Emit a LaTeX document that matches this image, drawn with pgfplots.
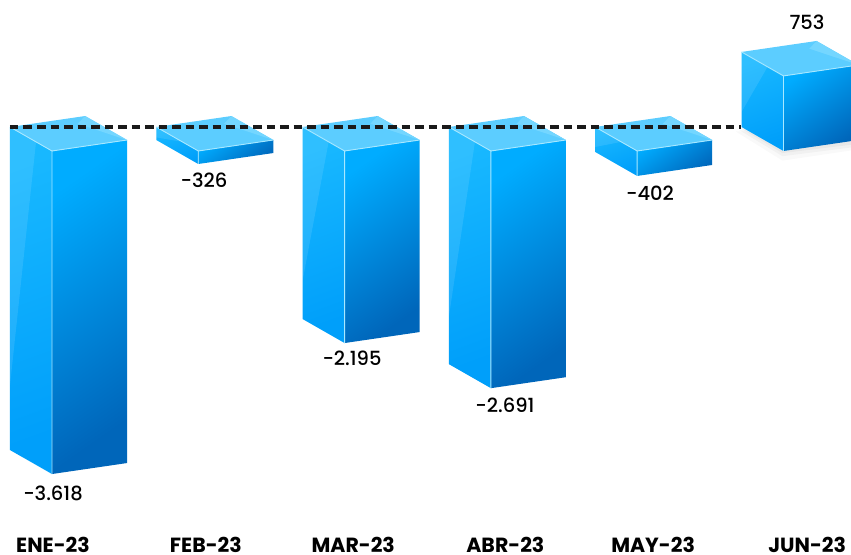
\documentclass[border=0pt]{standalone}
\usepackage{pgfplots}
\pgfplotsset{compat=1.18}
\usepackage{fontspec}
\setmainfont{Poppins}
\newfontfamily\medfont{Poppins Medium}
\definecolor{leftA}{HTML}{18B8FF}
\definecolor{leftB}{HTML}{009FFA}
\definecolor{rightA}{HTML}{00ACFF}
\definecolor{rightB}{HTML}{0066BA}
\definecolor{topA}{HTML}{5CCDFF}
\definecolor{topB}{HTML}{74D6FF}
\definecolor{edgeC}{HTML}{A8E8FF}
\definecolor{dashC}{HTML}{1A1A1A}
% Offsets of the box's faces, in axis units (1 category = 146.3 px; 1 y unit = 0.0885 px)
\def\ax{0.287}\def\ay{-271}\def\bx{0.513}\def\by{124}
% #1 category position, #2 y of top-left corner, #3 drawn height of the box.
% The reference's drawn heights are not quite proportional to its printed labels
% (small bars especially), so drawn heights are kept.
\newcommand\cube[3]{%
  \pgfmathsetmacro\xA{#1}\pgfmathsetmacro\yA{#2}%
  \pgfmathsetmacro\xB{#1+\ax}\pgfmathsetmacro\yB{#2+\ay}%
  \pgfmathsetmacro\xC{#1+\ax+\bx}\pgfmathsetmacro\yC{#2+\ay+\by}%
  \pgfmathsetmacro\xD{#1+\bx}\pgfmathsetmacro\yD{#2+\by}%
  \pgfmathsetmacro\yAb{#2-#3}\pgfmathsetmacro\yBb{#2+\ay-#3}\pgfmathsetmacro\yCb{#2+\ay+\by-#3}%
  \pgfmathsetmacro\xH{#1+0.62*\ax}\pgfmathsetmacro\yH{#2+0.62*\ay}\pgfmathsetmacro\yHb{#2-0.8*#3}%
  \pgfmathsetmacro\xT{#1+0.78*\bx+0.22*\ax}\pgfmathsetmacro\yT{#2+0.78*\by+0.22*\ay}%
  % left face
  \addplot[draw=none,top color=leftA,bottom color=leftB,shading angle=20] coordinates {(\xA,\yA)(\xB,\yB)(\xB,\yBb)(\xA,\yAb)} -- cycle;
  \addplot[draw=none,fill=white,fill opacity=0.10] coordinates {(\xA,\yA)(\xH,\yH)(\xA,\yHb)} -- cycle;
  % right face
  \addplot[draw=none,top color=rightA,bottom color=rightB,shading angle=35] coordinates {(\xB,\yB)(\xC,\yC)(\xC,\yCb)(\xB,\yBb)} -- cycle;
  % top face
  \addplot[draw=none,fill=topA] coordinates {(\xA,\yA)(\xD,\yD)(\xC,\yC)(\xB,\yB)} -- cycle;
  \addplot[draw=none,fill=topB] coordinates {(\xD,\yD)(\xC,\yC)(\xT,\yT)} -- cycle;
  % light front edges
  \addplot[edgeC,line width=0.9pt] coordinates {(\xB,\yBb)(\xB,\yB)(\xC,\yC)};
  \addplot[edgeC,line width=0.9pt] coordinates {(\xA,\yA)(\xB,\yB)};
}
\begin{document}
\begin{tikzpicture}
\useasboundingbox (0,-29pt) rectangle (851pt,525pt);
\begin{axis}[
  scale only axis,width=851pt,height=525pt,
  xmin=-0.06835,xmax=5.7485,ymin=-4497,ymax=1435,
  axis line style={draw=none},
  major tick length=0pt,
  ytick=\empty,
  xtick={0.294,1.339,2.346,3.386,4.396,5.449},
  xticklabels={ENE-23,FEB-23,MAR-23,ABR-23,MAY-23,JUN-23},
  xticklabel style={font=\fontsize{20.5}{21}\selectfont\bfseries,color=black,yshift=-8.5pt},
  no markers,
  clip=true,
]
% soft shadow under the last box
\addplot[draw=none,fill=black,fill opacity=0.025] coordinates {(4.96,-50)(5.28,-380)(5.85,-240)(5.85,-60)} -- cycle;
\addplot[draw=none,fill=black,fill opacity=0.03] coordinates {(4.98,-30)(5.28,-330)(5.85,-210)(5.85,-40)} -- cycle;
\addplot[draw=none,fill=black,fill opacity=0.035] coordinates {(4.99,-10)(5.28,-295)(5.85,-180)(5.85,-20)} -- cycle;
% category, top-left corner, drawn height
\cube{0}{0}{3650}
\cube{1}{0}{147}
\cube{2}{0}{2170}
\cube{3}{0}{2680}
\cube{4}{0}{282}
\cube{5}{848}{848}
% zero line
\addplot[dashC,line width=3.2pt,dash pattern=on 8.5pt off 5pt] coordinates {(0,0)(4.997,0)};
% printed values
\addplot[only marks,mark=none,draw=none,point meta=explicit symbolic,
  nodes near coords,
  every node near coord/.style={anchor=center,font=\medfont\fontsize{19.5}{21}\selectfont,color=black,inner sep=0pt}]
  coordinates {
  (0.294,-4136)[-3.618]
  (1.326,-599)[-326]
  (2.338,-2610)[-2.195]
  (3.383,-3141)[-2.691]
  (4.375,-746)[-402]
  (5.448,1186)[753]
};
\end{axis}
\end{tikzpicture}
\end{document}
